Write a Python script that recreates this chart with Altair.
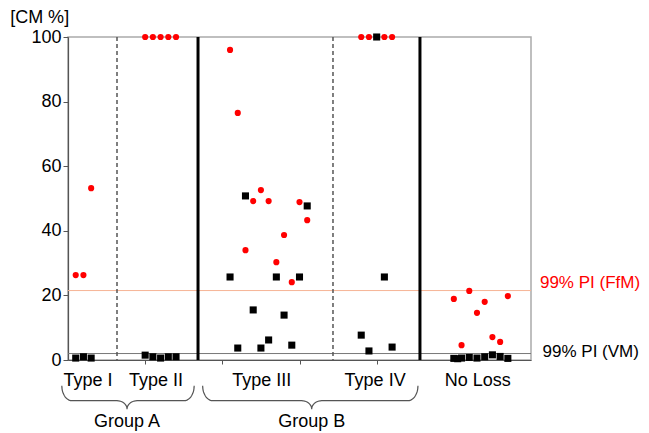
import altair as alt
import pandas as pd
import numpy as np

# ---------------- data ----------------
# black squares (VM)
vm_x = [0.1, 0.2, 0.3,
        1.0, 1.1, 1.2, 1.3, 1.4,
        2.1, 2.2, 2.3, 2.4, 2.5, 2.6, 2.7, 2.8, 2.9, 3.0, 3.1,
        3.8, 3.9, 4.0, 4.1, 4.2,
        5.0, 5.05, 5.1, 5.2, 5.3, 5.4, 5.5, 5.6, 5.7]
vm_y = [0.6, 1.0, 0.6,
        1.5, 1.0, 0.6, 1.0, 1.0,
        25.7, 3.7, 50.8, 15.5, 3.7, 6.2, 25.7, 13.9, 4.6, 25.7, 47.7,
        7.7, 2.8, 100, 25.7, 4.0,
        0.5, 0.4, 0.6, 0.8, 0.6, 1.0, 1.6, 1.1, 0.5]
# red circles (FfM)
ffm_x = [0.1, 0.2, 0.3,
         1.0, 1.1, 1.2, 1.3, 1.4,
         2.1, 2.2, 2.3, 2.4, 2.5, 2.6, 2.7, 2.8, 2.9, 3.0, 3.1,
         3.8, 3.9, 4.0, 4.1, 4.2,
         5.0, 5.1, 5.2, 5.3, 5.4, 5.5, 5.6, 5.7]
ffm_y = [26.3, 26.3, 53.2,
         100, 100, 100, 100, 100,
         96.0, 76.5, 34.0, 49.2, 52.6, 49.2, 30.3, 38.7, 24.1, 48.9, 43.3,
         100, 100, 100, 100, 100,
         18.9, 4.6, 21.4, 14.6, 18.0, 7.1, 5.6, 19.8]

categories = ["Type I", "Type II", "Type III", "Type IV", "No Loss"]
category_x = [0.26, 1.14, 2.51, 3.98, 5.31]
dashed_dividers = [0.635, 3.434]
solid_dividers = [1.685, 4.561]
groups = ["Group A", "Group B"]
group_start = [-0.08, 1.745]
group_end = [1.635, 4.535]
group_mid = [0.765, 3.158]
pi_vm = 2.0
pi_ffm = 21.5
y_ticks = [0, 20, 40, 60, 80, 100]
x_ticks = [1, 2, 3, 4]

FONT = "Liberation Sans"

xs = alt.Scale(domain=[0, 6], nice=False, zero=False)
ys = alt.Scale(domain=[0, 100], nice=False, zero=False)

def X(f="x"):
    return alt.X(f"{f}:Q", scale=xs,
                 axis=alt.Axis(values=x_ticks, labels=False, title=None, grid=False,
                               tickSize=4, tickColor="#555", domainColor="#555",
                               domainWidth=1.2))

def Y(f="y"):
    return alt.Y(f"{f}:Q", scale=ys,
                 axis=alt.Axis(values=y_ticks, title=None, grid=False, tickSize=5,
                               tickColor="#555", domainColor="#555", domainWidth=1.2,
                               labelFontSize=18, labelFont=FONT, labelColor="black",
                               labelPadding=2))

vm_df = pd.DataFrame({"x": vm_x, "y": vm_y})
ffm_df = pd.DataFrame({"x": ffm_x, "y": ffm_y})

dashed = alt.Chart(pd.DataFrame({"x": dashed_dividers})).mark_rule(
    color="#555", strokeWidth=1.5, strokeDash=[4, 3]).encode(x=X())
solid = alt.Chart(pd.DataFrame({"x": solid_dividers})).mark_rule(
    color="black", strokeWidth=3).encode(x=X())
vm_line = alt.Chart(pd.DataFrame({"y": [pi_vm]})).mark_rule(
    color="#777", strokeWidth=1).encode(y=Y())
ffm_line = alt.Chart(pd.DataFrame({"y": [pi_ffm]})).mark_rule(
    color="#f6b496", strokeWidth=1).encode(y=Y())

red_pts = alt.Chart(ffm_df).mark_point(
    shape="circle", filled=True, color="#ff0000", size=38, opacity=1).encode(x=X(), y=Y())
black_pts = alt.Chart(vm_df).mark_point(
    shape="square", filled=True, color="black", size=50, opacity=1).encode(x=X(), y=Y())

# labels
line_labels = pd.DataFrame({
    "x": [6.116, 6.15], "y": [23.8, 2.5],
    "t": ["99% PI (FfM)", "99% PI (VM)"], "c": ["#ff0000", "black"]})
line_text = alt.Chart(line_labels).mark_text(
    align="left", baseline="middle", fontSize=17, font=FONT).encode(
    x=X(), y=Y(), text="t:N", color=alt.Color("c:N", scale=None))

cat_text = alt.Chart(pd.DataFrame({"x": category_x, "y": [-8.05] * 5, "t": categories})).mark_text(
    align="center", baseline="alphabetic", fontSize=18, font=FONT, color="black").encode(
    x=X(), y=Y(), text="t:N")
grp_text = alt.Chart(pd.DataFrame({"x": group_mid, "y": [-20.8] * 2, "t": groups})).mark_text(
    align="center", baseline="alphabetic", fontSize=18, font=FONT, color="black").encode(
    x=X(), y=Y(), text="t:N")
unit_text = alt.Chart(pd.DataFrame({"x": [-0.75], "y": [104.3], "t": ["[CM %]"]})).mark_text(
    align="left", baseline="alphabetic", fontSize=18, font=FONT, color="black").encode(
    x=X(), y=Y(), text="t:N")

# curly braces under the groups
def brace(g, x0, x1, xm, yt=-8.0, ym=-12.6, yb=-15.2, rx=0.13, rxt=0.13):
    t = np.linspace(0, np.pi / 2, 12)
    pts = []
    for ti in t:
        pts.append((x0 + rx - rx * np.cos(ti), yt + (ym - yt) * np.sin(ti)))
    for ti in t:
        pts.append((xm - rxt + rxt * np.sin(ti), ym + (yb - ym) * (1 - np.cos(ti))))
    for ti in t[::-1]:
        pts.append((xm + rxt - rxt * np.sin(ti), ym + (yb - ym) * (1 - np.cos(ti))))
    for ti in t[::-1]:
        pts.append((x1 - rx + rx * np.cos(ti), yt + (ym - yt) * np.sin(ti)))
    return pd.DataFrame({"g": g, "i": range(len(pts)),
                         "x": [p[0] for p in pts], "y": [p[1] for p in pts]})

brace_df = pd.concat([brace(g, a, b, m) for g, a, b, m in
                      zip(groups, group_start, group_end, group_mid)])
braces = alt.Chart(brace_df).mark_line(color="#555", strokeWidth=1.2).encode(
    x=X(), y=Y(), detail="g:N", order="i:Q")

chart = alt.layer(
    ffm_line, vm_line, dashed, solid, red_pts, black_pts,
    line_text, cat_text, grp_text, unit_text, braces
).properties(
    width=463, height=323,
    autosize=alt.AutoSizeParams(type="none"),
    padding={"left": 60, "top": 29, "right": 110, "bottom": 73},
).configure_view(stroke="#aaa", strokeWidth=1.5)

chart.save("out.html", embed_options={"renderer": "svg", "actions": False})
